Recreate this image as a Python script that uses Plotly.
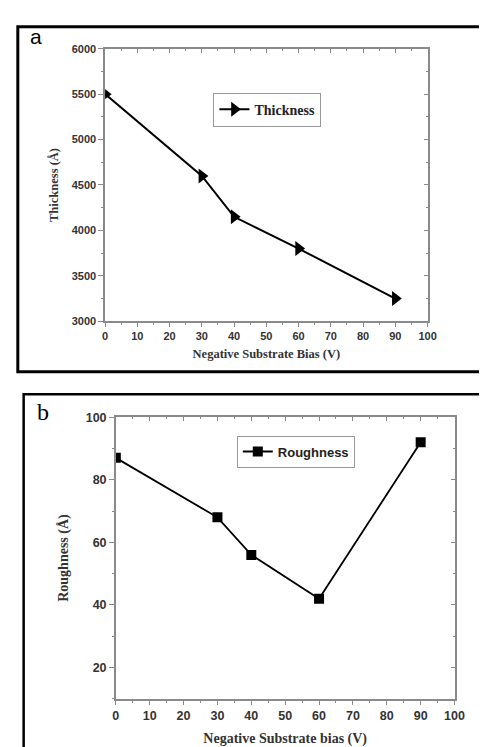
import plotly.graph_objects as go

W, H = 487, 747

# Data
bias_a = [0, 30, 40, 60, 90]
thickness = [5500, 4600, 4150, 3800, 3250]
bias_b = [0, 30, 40, 60, 90]
roughness = [87, 68, 56, 42, 92]

x_ticks = [0, 10, 20, 30, 40, 50, 60, 70, 80, 90, 100]
ya_ticks = [3000, 3500, 4000, 4500, 5000, 5500, 6000]
yb_ticks = [20, 40, 60, 80, 100]

def px_x(p):
    return p / W

def px_y(p):
    return 1 - p / H

AX = "#8a8a8a"
SANS = "Liberation Sans, Arial, sans-serif"
SERIF = "Liberation Serif, Times New Roman, serif"

fig = go.Figure()

fig.add_trace(go.Scatter(
    x=bias_a, y=thickness, mode="lines+markers", name="<b>Thickness</b>",
    line=dict(color="black", width=2),
    marker=dict(symbol="triangle-right", size=13, color="black"),
    xaxis="x", yaxis="y", legend="legend"))
fig.add_trace(go.Scatter(
    x=bias_b, y=roughness, mode="lines+markers", name="<b>Roughness</b>",
    line=dict(color="black", width=1.8),
    marker=dict(symbol="square", size=10, color="black"),
    xaxis="x2", yaxis="y2", legend="legend2"))

# invisible traces so the mirrored tick axes get drawn
for xa, ya in [("x3", "y"), ("x", "y3"), ("x4", "y2"), ("x2", "y4")]:
    fig.add_trace(go.Scatter(x=[], y=[], xaxis=xa, yaxis=ya, showlegend=False,
                             hoverinfo="skip"))

dom_ax = [px_x(96.7), px_x(428)]
dom_ay = [px_y(311.7), px_y(34.3)]
dom_bx = [px_x(107.7), px_x(455.7)]
dom_by = [px_y(696), px_y(409.3)]

common_axis = dict(showgrid=False, zeroline=False, showline=True, linecolor=AX,
                   linewidth=1.5, ticks="outside", tickcolor=AX, tickwidth=1.2,
                   mirror=True)

fig.update_layout(
    width=W, height=H, margin=dict(l=0, r=0, t=0, b=0),
    paper_bgcolor="white", plot_bgcolor="white",
    xaxis=dict(domain=dom_ax, anchor="y", range=[0, 100], tickvals=x_ticks,
               ticklen=4, minor=dict(dtick=5, ticks="outside", ticklen=2, tickcolor=AX),
               tickfont=dict(family=SANS, size=11, color="#333", weight="bold"),
               title=dict(text="<b>Negative Substrate Bias (V)</b>", standoff=8,
                          font=dict(family=SERIF, size=12.5, color="#333")),
               **common_axis),
    yaxis=dict(domain=dom_ay, anchor="x", range=[3000, 6000], tickvals=ya_ticks,
               ticklen=5, minor=dict(dtick=250, ticks="outside", ticklen=2, tickcolor=AX),
               tickfont=dict(family=SANS, size=11, color="#333", weight="bold"),
               title=dict(text="<b>Thickness (Å)</b>", standoff=10,
                          font=dict(family=SERIF, size=12.5, color="#333")),
               **common_axis),
    xaxis3=dict(overlaying="x", anchor="y", side="top", range=[0, 100], tickvals=x_ticks,
                showticklabels=False, ticks="inside", ticklen=4, tickcolor=AX,
                minor=dict(dtick=5, ticks="inside", ticklen=2, tickcolor=AX),
                showgrid=False, zeroline=False, showline=False),
    yaxis3=dict(overlaying="y", anchor="x", side="right", range=[3000, 6000],
                tickvals=ya_ticks, showticklabels=False, ticks="inside", ticklen=4,
                tickcolor=AX, minor=dict(dtick=250, ticks="inside", ticklen=2, tickcolor=AX),
                showgrid=False, zeroline=False, showline=False),
    xaxis2=dict(domain=dom_bx, anchor="y2", range=[0, 100], tickvals=x_ticks,
                ticklen=4, minor=dict(dtick=5, ticks="outside", ticklen=2, tickcolor=AX),
                tickfont=dict(family=SANS, size=12.5, color="#333", weight="bold"),
                title=dict(text="<b>Negative Substrate bias (V)</b>", standoff=12,
                           font=dict(family=SERIF, size=14, color="#333")),
                **common_axis),
    yaxis2=dict(domain=dom_by, anchor="x2", range=[10, 100], tickvals=yb_ticks,
                ticklen=5, minor=dict(dtick=10, ticks="outside", ticklen=2, tickcolor=AX),
                tickfont=dict(family=SANS, size=12.5, color="#333", weight="bold"),
                title=dict(text="<b>Roughness (Å)</b>", standoff=14,
                           font=dict(family=SERIF, size=14, color="#333")),
                **common_axis),
    xaxis4=dict(overlaying="x2", anchor="y2", side="top", range=[0, 100], tickvals=x_ticks,
                showticklabels=False, ticks="inside", ticklen=4, tickcolor=AX,
                minor=dict(dtick=5, ticks="inside", ticklen=2, tickcolor=AX),
                showgrid=False, zeroline=False, showline=False),
    yaxis4=dict(overlaying="y2", anchor="x2", side="right", range=[10, 100],
                tickvals=yb_ticks, showticklabels=False, ticks="inside", ticklen=4,
                tickcolor=AX, minor=dict(dtick=10, ticks="inside", ticklen=2, tickcolor=AX),
                showgrid=False, zeroline=False, showline=False),
    legend=dict(x=px_x(208), y=px_y(79), xanchor="left", yanchor="top",
                bordercolor="#999", borderwidth=1, bgcolor="white",
                font=dict(family=SERIF, size=14, color="#222"),
                itemwidth=30, tracegroupgap=0),
    legend2=dict(x=px_x(232), y=px_y(428), xanchor="left", yanchor="top",
                 bordercolor="#999", borderwidth=1, bgcolor="white",
                 font=dict(family=SANS, size=13, color="#222"),
                 itemwidth=30, tracegroupgap=0),
    showlegend=True,
)

# Panel frames
fig.add_shape(type="rect", xref="paper", yref="paper",
              x0=px_x(7), x1=px_x(495), y0=px_y(363), y1=px_y(12),
              line=dict(color="black", width=3), layer="above")
fig.add_shape(type="rect", xref="paper", yref="paper",
              x0=px_x(13), x1=px_x(485), y0=px_y(760), y1=px_y(386),
              line=dict(color="black", width=2.5), layer="above")

# Panel letters
fig.add_annotation(text="a", xref="paper", yref="paper", x=px_x(26), y=px_y(22),
                   xanchor="center", yanchor="middle", showarrow=False,
                   font=dict(family=SANS, size=21, color="black"))
fig.add_annotation(text="b", xref="paper", yref="paper", x=px_x(33), y=px_y(404),
                   xanchor="center", yanchor="middle", showarrow=False,
                   font=dict(family=SERIF, size=24, color="black"))

fig.write_html("out.html")
